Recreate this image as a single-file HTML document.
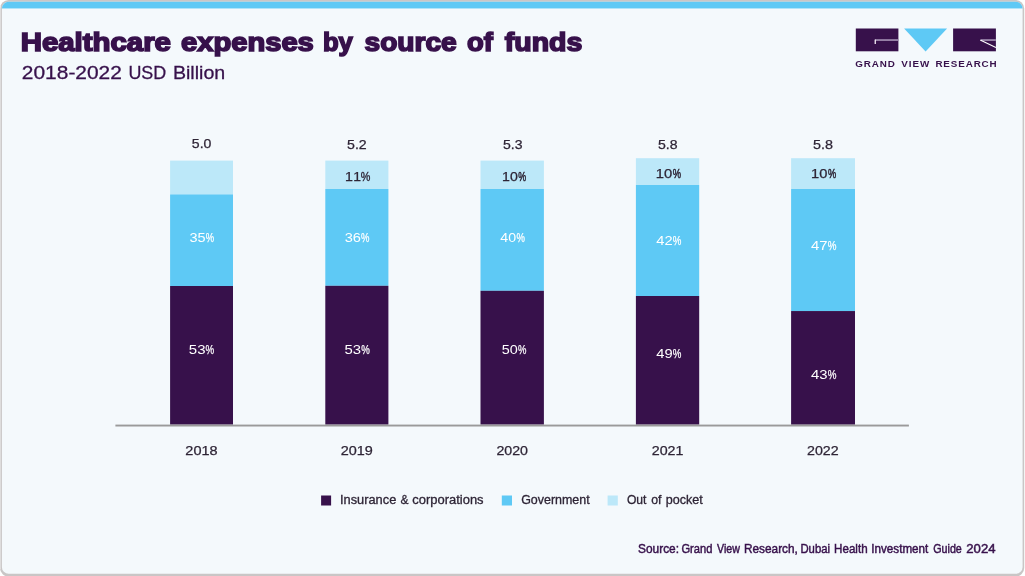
<!DOCTYPE html>
<html lang="en"><head><meta charset="utf-8"><title>Healthcare expenses by source of funds</title>
<style>
html,body{margin:0;padding:0;background:#fff;}
body{width:1025px;height:576px;overflow:hidden;font-family:"Liberation Sans",sans-serif;}
svg{display:block}
text{font-family:"Liberation Sans",sans-serif;white-space:pre}
</style></head><body>
<svg width="1025" height="576" viewBox="0 0 1025 576">
<defs><clipPath id="card"><rect x="1.9" y="1.85" width="1020.7" height="571.9" rx="6.8" ry="6.8"/></clipPath></defs>
<rect x="0" y="0" width="1024.2" height="576.6" rx="8.6" ry="8.6" fill="#c9c6c6"/>
<rect x="0" y="6" width="1" height="563" fill="#ffffff" fill-opacity="0.4"/>
<rect x="1.9" y="1.85" width="1020.7" height="571.9" rx="6.8" ry="6.8" fill="#f4f9fc"/>
<g clip-path="url(#card)"><rect x="0" y="0" width="1025" height="8.45" fill="#5ec9f5"/></g>
<rect x="855.8" y="28.5" width="42.6" height="22.8" fill="#37114b"/>
<rect x="875" y="39.2" width="23.4" height="1.7" fill="#a18db1"/>
<rect x="874.6" y="39.6" width="1.3" height="4.4" fill="#f4eef7"/>
<path d="M904.1 28.4H947.1L925.6 51.4Z" fill="#5ec9f5"/>
<rect x="953.1" y="28.5" width="42.8" height="22.8" fill="#37114b"/>
<rect x="981" y="39.2" width="14.9" height="1.7" fill="#a18db1"/>
<path d="M980.2 40.1L995.9 47.5" fill="none" stroke="#ffffff" stroke-width="1.1"/>
<rect x="170.1" y="160.6" width="62.9" height="33.8" fill="#bce8f9"/>
<rect x="170.1" y="194.4" width="62.9" height="91.6" fill="#5ec9f5"/>
<rect x="170.1" y="286.0" width="62.9" height="138.6" fill="#37114b"/>
<rect x="325.3" y="160.6" width="63.1" height="28.4" fill="#bce8f9"/>
<rect x="325.3" y="189.0" width="63.1" height="96.8" fill="#5ec9f5"/>
<rect x="325.3" y="285.8" width="63.1" height="138.8" fill="#37114b"/>
<rect x="480.5" y="160.6" width="63.4" height="28.4" fill="#bce8f9"/>
<rect x="480.5" y="189.0" width="63.4" height="101.8" fill="#5ec9f5"/>
<rect x="480.5" y="290.8" width="63.4" height="133.8" fill="#37114b"/>
<rect x="635.9" y="158.2" width="63.3" height="26.8" fill="#bce8f9"/>
<rect x="635.9" y="185.0" width="63.3" height="111.0" fill="#5ec9f5"/>
<rect x="635.9" y="296.0" width="63.3" height="128.6" fill="#37114b"/>
<rect x="791.1" y="158.2" width="63.9" height="30.8" fill="#bce8f9"/>
<rect x="791.1" y="189.0" width="63.9" height="122.1" fill="#5ec9f5"/>
<rect x="791.1" y="311.05" width="63.9" height="113.6" fill="#37114b"/>
<rect x="115.4" y="424.6" width="793.5" height="1.9" fill="#9a9a9a"/>
<rect x="321.1" y="495.5" width="10" height="10" fill="#37114b"/>
<rect x="501.8" y="495.5" width="10.2" height="10" fill="#5ec9f5"/>
<rect x="607.6" y="495.5" width="10.2" height="10" fill="#bce8f9"/>
<text y="50.5" font-size="25.6" fill="#37114b" font-weight="bold" stroke="#37114b" stroke-width="1.6"><tspan x="20.66" textLength="150.27" lengthAdjust="spacingAndGlyphs">Healthcare</tspan> <tspan x="181.09" textLength="132.69" lengthAdjust="spacingAndGlyphs">expenses</tspan> <tspan x="322.90" textLength="29.94" lengthAdjust="spacingAndGlyphs">by</tspan> <tspan x="364.52" textLength="92.18" lengthAdjust="spacingAndGlyphs">source</tspan> <tspan x="467.04" textLength="25.86" lengthAdjust="spacingAndGlyphs">of</tspan> <tspan x="504.86" textLength="77.50" lengthAdjust="spacingAndGlyphs">funds</tspan></text>
<text y="78.6" font-size="19.0" fill="#37114b" stroke="#37114b" stroke-width="0.3"><tspan x="21.87" textLength="100.03" lengthAdjust="spacingAndGlyphs">2018-2022</tspan> <tspan x="128.43" textLength="37.84" lengthAdjust="spacingAndGlyphs">USD</tspan> <tspan x="172.92" textLength="52.33" lengthAdjust="spacingAndGlyphs">Billion</tspan></text>
<text transform="translate(855.6 66.9) scale(1.2 1)" font-size="8.2" fill="#37114b" font-weight="bold"><tspan x="-0.26" letter-spacing="0.723">GRAND</tspan> <tspan x="38.00" letter-spacing="0.795">VIEW</tspan> <tspan x="66.49" letter-spacing="0.731">RESEARCH</tspan></text>
<text y="148.05" font-size="12.4" fill="#2e2536" stroke="#2e2536" stroke-width="0.25"><tspan x="191.89" textLength="19.54" lengthAdjust="spacingAndGlyphs">5.0</tspan></text>
<text y="148.9" font-size="12.4" fill="#2e2536" stroke="#2e2536" stroke-width="0.25"><tspan x="347.08" textLength="19.67" lengthAdjust="spacingAndGlyphs">5.2</tspan></text>
<text y="148.9" font-size="12.4" fill="#2e2536" stroke="#2e2536" stroke-width="0.25"><tspan x="502.99" textLength="19.56" lengthAdjust="spacingAndGlyphs">5.3</tspan></text>
<text y="148.9" font-size="12.4" fill="#2e2536" stroke="#2e2536" stroke-width="0.25"><tspan x="657.99" textLength="19.56" lengthAdjust="spacingAndGlyphs">5.8</tspan></text>
<text y="148.9" font-size="12.4" fill="#2e2536" stroke="#2e2536" stroke-width="0.25"><tspan x="812.98" textLength="19.98" lengthAdjust="spacingAndGlyphs">5.8</tspan></text>
<text y="180.8" font-size="12.4" fill="#2e2536" stroke="#2e2536" stroke-width="0.25"><tspan x="502.04" textLength="15.73" lengthAdjust="spacingAndGlyphs">10</tspan><tspan x="518.33" textLength="7.88" lengthAdjust="spacingAndGlyphs" stroke="#2e2536" stroke-width="0.5">%</tspan></text>
<text y="177.7" font-size="12.4" fill="#2e2536" stroke="#2e2536" stroke-width="0.25"><tspan x="655.80" textLength="16.48" lengthAdjust="spacingAndGlyphs">10</tspan><tspan x="672.85" textLength="8.28" lengthAdjust="spacingAndGlyphs" stroke="#2e2536" stroke-width="0.5">%</tspan></text>
<text y="177.7" font-size="12.4" fill="#2e2536" stroke="#2e2536" stroke-width="0.25"><tspan x="811.01" textLength="16.34" lengthAdjust="spacingAndGlyphs">10</tspan><tspan x="827.92" textLength="8.20" lengthAdjust="spacingAndGlyphs" stroke="#2e2536" stroke-width="0.5">%</tspan></text>
<text y="180.8" font-size="12.4" fill="#2e2536" stroke="#2e2536" stroke-width="0.25"><tspan x="345.04" textLength="7.92" lengthAdjust="spacingAndGlyphs">1</tspan><tspan x="353.15" textLength="7.79" lengthAdjust="spacingAndGlyphs">1</tspan><tspan x="360.74" textLength="9.61" lengthAdjust="spacingAndGlyphs" stroke="#2e2536" stroke-width="0.35">%</tspan></text>
<text y="241.8" font-size="12.4" fill="#ffffff"><tspan x="189.45" textLength="16.16" lengthAdjust="spacingAndGlyphs">35</tspan><tspan x="205.69" textLength="8.36" lengthAdjust="spacingAndGlyphs" stroke="#ffffff" stroke-width="0.25">%</tspan></text>
<text y="241.8" font-size="12.4" fill="#ffffff"><tspan x="344.74" textLength="16.30" lengthAdjust="spacingAndGlyphs">36</tspan><tspan x="361.12" textLength="8.44" lengthAdjust="spacingAndGlyphs" stroke="#ffffff" stroke-width="0.25">%</tspan></text>
<text y="241.8" font-size="12.4" fill="#ffffff"><tspan x="500.38" textLength="15.82" lengthAdjust="spacingAndGlyphs">40</tspan><tspan x="516.52" textLength="8.44" lengthAdjust="spacingAndGlyphs" stroke="#ffffff" stroke-width="0.25">%</tspan></text>
<text y="245.0" font-size="12.4" fill="#ffffff"><tspan x="656.37" textLength="16.39" lengthAdjust="spacingAndGlyphs">42</tspan><tspan x="672.85" textLength="8.62" lengthAdjust="spacingAndGlyphs" stroke="#ffffff" stroke-width="0.25">%</tspan></text>
<text y="250.0" font-size="12.4" fill="#ffffff"><tspan x="811.07" textLength="16.59" lengthAdjust="spacingAndGlyphs">47</tspan><tspan x="827.74" textLength="8.72" lengthAdjust="spacingAndGlyphs" stroke="#ffffff" stroke-width="0.25">%</tspan></text>
<text y="354.0" font-size="12.4" fill="#ffffff"><tspan x="188.83" textLength="16.70" lengthAdjust="spacingAndGlyphs">53</tspan><tspan x="205.61" textLength="8.65" lengthAdjust="spacingAndGlyphs" stroke="#ffffff" stroke-width="0.25">%</tspan></text>
<text y="354.0" font-size="12.4" fill="#ffffff"><tspan x="344.53" textLength="16.57" lengthAdjust="spacingAndGlyphs">53</tspan><tspan x="361.18" textLength="8.58" lengthAdjust="spacingAndGlyphs" stroke="#ffffff" stroke-width="0.25">%</tspan></text>
<text y="354.0" font-size="12.4" fill="#ffffff"><tspan x="501.75" textLength="16.06" lengthAdjust="spacingAndGlyphs">50</tspan><tspan x="518.12" textLength="8.44" lengthAdjust="spacingAndGlyphs" stroke="#ffffff" stroke-width="0.25">%</tspan></text>
<text y="358.1" font-size="12.4" fill="#ffffff"><tspan x="656.37" textLength="16.39" lengthAdjust="spacingAndGlyphs">49</tspan><tspan x="672.85" textLength="8.62" lengthAdjust="spacingAndGlyphs" stroke="#ffffff" stroke-width="0.25">%</tspan></text>
<text y="379.0" font-size="12.4" fill="#ffffff"><tspan x="811.07" textLength="16.59" lengthAdjust="spacingAndGlyphs">43</tspan><tspan x="827.74" textLength="8.72" lengthAdjust="spacingAndGlyphs" stroke="#ffffff" stroke-width="0.25">%</tspan></text>
<text y="455" font-size="12.4" fill="#2e2536" stroke="#2e2536" stroke-width="0.25"><tspan x="185.35" textLength="32.22" lengthAdjust="spacingAndGlyphs">2018</tspan></text>
<text y="455" font-size="12.4" fill="#2e2536" stroke="#2e2536" stroke-width="0.25"><tspan x="340.75" textLength="32.11" lengthAdjust="spacingAndGlyphs">2019</tspan></text>
<text y="455" font-size="12.4" fill="#2e2536" stroke="#2e2536" stroke-width="0.25"><tspan x="496.46" textLength="31.57" lengthAdjust="spacingAndGlyphs">2020</tspan></text>
<text y="455" font-size="12.4" fill="#2e2536" stroke="#2e2536" stroke-width="0.25"><tspan x="651.76" textLength="31.70" lengthAdjust="spacingAndGlyphs">2021</tspan></text>
<text y="455" font-size="12.4" fill="#2e2536" stroke="#2e2536" stroke-width="0.25"><tspan x="807.06" textLength="31.59" lengthAdjust="spacingAndGlyphs">2022</tspan></text>
<text y="503.9" font-size="12.3" fill="#2e2536" stroke="#2e2536" stroke-width="0.3"><tspan x="340.05" textLength="56.22" lengthAdjust="spacingAndGlyphs">Insurance</tspan> <tspan x="400.38" textLength="8.00" lengthAdjust="spacingAndGlyphs">&amp;</tspan> <tspan x="412.35" textLength="71.21" lengthAdjust="spacingAndGlyphs">corporations</tspan></text>
<text y="503.9" font-size="12.3" fill="#2e2536" stroke="#2e2536" stroke-width="0.3"><tspan x="521.17" textLength="68.54" lengthAdjust="spacingAndGlyphs">Government</tspan></text>
<text y="503.9" font-size="12.3" fill="#2e2536" stroke="#2e2536" stroke-width="0.3"><tspan x="626.88" textLength="19.53" lengthAdjust="spacingAndGlyphs">Out</tspan> <tspan x="651.27" textLength="10.24" lengthAdjust="spacingAndGlyphs">of</tspan> <tspan x="665.76" textLength="37.04" lengthAdjust="spacingAndGlyphs">pocket</tspan></text>
<text y="552.7" font-size="12.2" fill="#37114b" stroke="#37114b" stroke-width="0.45"><tspan x="638.05" textLength="41.00" lengthAdjust="spacingAndGlyphs">Source:</tspan> <tspan x="681.40" textLength="31.00" lengthAdjust="spacingAndGlyphs">Grand</tspan> <tspan x="717.02" textLength="22.82" lengthAdjust="spacingAndGlyphs">View</tspan> <tspan x="744.00" textLength="53.86" lengthAdjust="spacingAndGlyphs">Research,</tspan> <tspan x="800.44" textLength="29.58" lengthAdjust="spacingAndGlyphs">Dubai</tspan> <tspan x="834.12" textLength="33.51" lengthAdjust="spacingAndGlyphs">Health</tspan> <tspan x="871.31" textLength="57.02" lengthAdjust="spacingAndGlyphs">Investment</tspan> <tspan x="933.22" textLength="28.59" lengthAdjust="spacingAndGlyphs">Guide</tspan> <tspan x="966.31" textLength="29.19" lengthAdjust="spacingAndGlyphs">2024</tspan></text>
</svg></body></html>
